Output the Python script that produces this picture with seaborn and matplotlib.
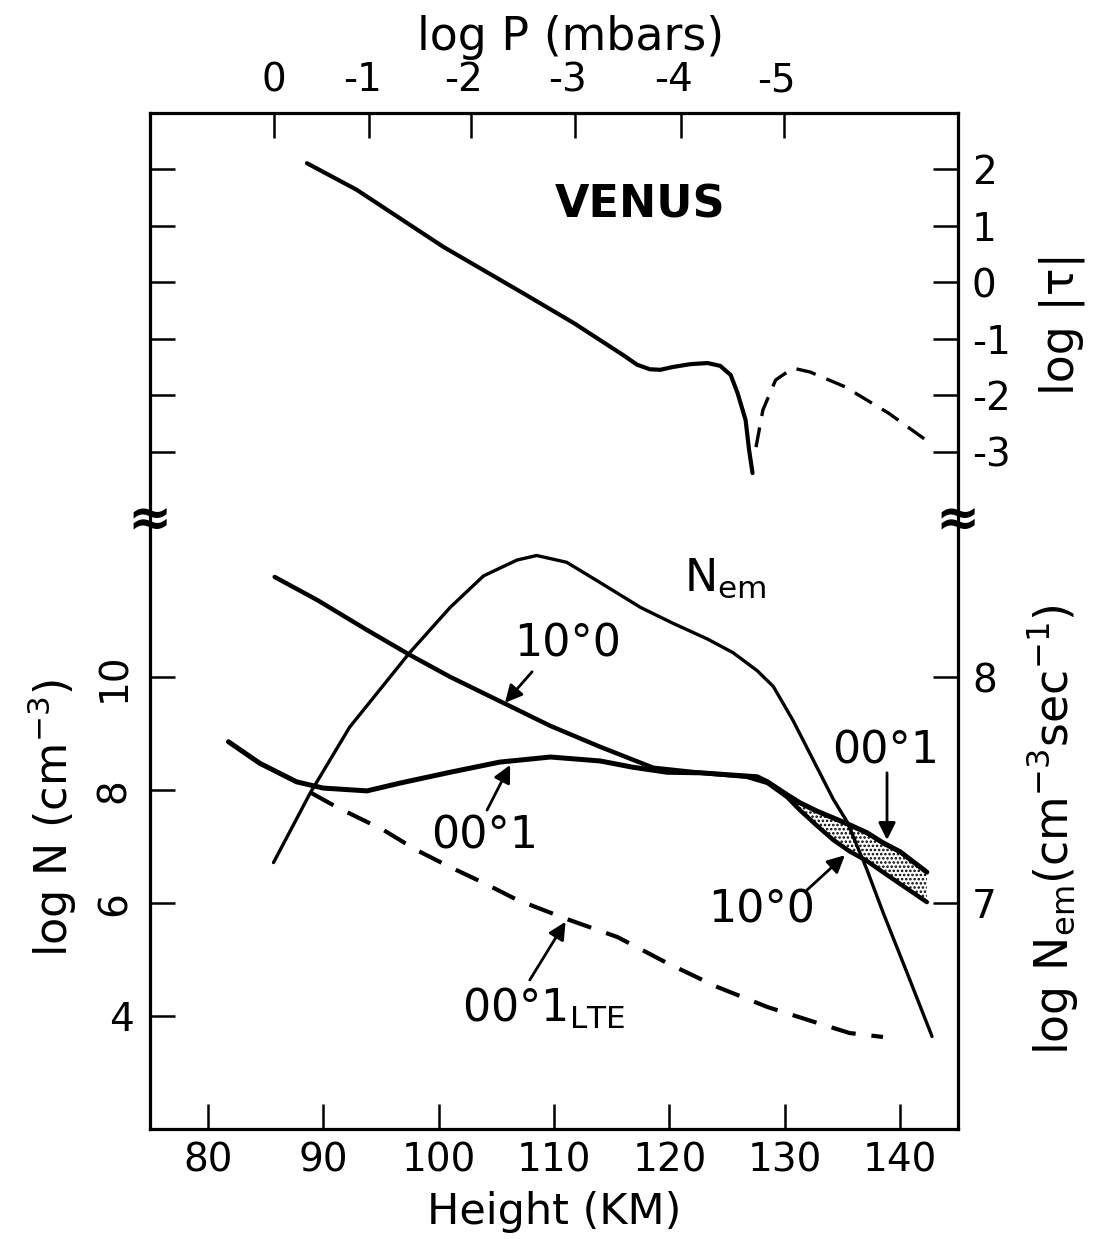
import matplotlib
matplotlib.use("Agg")
import matplotlib.pyplot as plt
import matplotlib.transforms as mtransforms
import seaborn as sns

# heights (km) and curves
logp_ticks = [0, -1, -2, -3, -4, -5]
logp_km = [85.7, 94.0, 102.8, 111.8, 121.0, 129.9]

tau_km = [88.6, 92.9, 100.4, 107.3, 111.7, 116.0, 117.2, 118.3, 119.2, 120.3,
          121.8, 123.3, 124.4, 125.3, 125.9, 126.6, 126.9, 127.2]
tau_log = [2.11, 1.64, 0.63, -0.19, -0.72, -1.29, -1.46, -1.54, -1.55, -1.50,
           -1.45, -1.43, -1.48, -1.64, -1.96, -2.44, -2.97, -3.38]
tau_dash_km = [127.5, 128.1, 129.2, 130.7, 132.2, 135.2, 139.0, 142.6]
tau_dash_log = [-2.92, -2.26, -1.73, -1.52, -1.59, -1.85, -2.32, -2.85]

nem_km = [85.7, 88.9, 92.3, 97.5, 101.0, 103.9, 106.8, 108.5, 111.1, 114.0,
          117.5, 120.3, 123.3, 125.5, 127.6, 129.0, 130.7, 132.8, 134.2, 135.4,
          137.1, 138.5, 140.6, 142.75]
nem_log = [7.18, 7.49, 7.78, 8.11, 8.31, 8.45, 8.52, 8.54, 8.51, 8.42,
           8.31, 8.24, 8.17, 8.11, 8.03, 7.96, 7.81, 7.60, 7.46, 7.36,
           7.15, 6.96, 6.69, 6.41]

t100_km = [85.8, 89.5, 93.8, 97.5, 101.0, 105.6, 109.7, 114.0, 118.6, 122.7,
           126.7, 128.5, 130.2, 131.3, 132.8, 134.2, 135.6, 137.1, 138.5, 140.0, 142.3]
t100_logn = [11.78, 11.37, 10.84, 10.40, 10.01, 9.55, 9.14, 8.77, 8.40, 8.31,
             8.24, 8.13, 7.88, 7.65, 7.37, 7.12, 6.92, 6.75, 6.55, 6.34, 6.02]

t001_km = [81.8, 84.5, 87.7, 90.0, 93.8, 96.7, 101.0, 105.3, 109.7, 114.0,
           116.8, 119.8, 122.7, 125.5, 127.6, 128.5, 130.2, 131.3, 132.8, 134.2,
           135.6, 137.1, 138.5, 140.0, 142.3]
t001_logn = [8.86, 8.48, 8.15, 8.04, 7.99, 8.13, 8.32, 8.50, 8.59, 8.52,
             8.41, 8.32, 8.31, 8.27, 8.24, 8.15, 7.92, 7.78, 7.63, 7.51,
             7.39, 7.25, 7.07, 6.91, 6.55]

lte_km = [89.0, 91.2, 95.2, 98.1, 101.0, 103.9, 106.8, 111.1, 115.5, 119.8,
          124.1, 128.5, 132.8, 135.6, 138.5]
lte_logn = [7.95, 7.70, 7.30, 6.94, 6.64, 6.36, 6.06, 5.72, 5.40, 4.94,
            4.52, 4.16, 3.88, 3.70, 3.63]

height_ticks = [80, 90, 100, 110, 120, 130, 140]
logn_ticks = [4, 6, 8, 10]
tau_ticks = [2, 1, 0, -1, -2, -3]
nem_ticks = [7, 8]

sns.set_theme(style="ticks")
plt.rcParams["font.family"] = ["DejaVu Sans"]
plt.rcParams["axes.linewidth"] = 2.2
plt.rcParams["hatch.linewidth"] = 1.2
plt.rcParams["axes.edgecolor"] = "black"
plt.rcParams["text.color"] = "black"
plt.rcParams["axes.labelcolor"] = "black"

fig = plt.figure(figsize=(10.99, 12.39), dpi=100)
ax = fig.add_axes([0.1365, 0.0888, 0.7352, 0.82])
ax.set_xlim(75, 145)
ax.set_ylim(2, 20)
ax_tau = ax.twinx()
ax_tau.set_ylim(-15, 3)
ax_em = ax.twinx()
ax_em.set_ylim(6, 10.5)
ax_top = ax.twiny()
ax_top.set_xlim(75, 145)

tick_kw = dict(direction="in", length=18, width=1.8, colors="black", labelsize=28)

ax.set_xticks(height_ticks)
ax.tick_params(axis="x", bottom=True, top=False, pad=9, **tick_kw)
ax.set_yticks(logn_ticks + [14, 15, 16, 17, 18, 19],
              [str(v) for v in logn_ticks] + [""] * 6)
ax.tick_params(axis="y", left=True, right=False, pad=12, **tick_kw)
for lab in ax.get_yticklabels():
    if lab.get_text() in ("6", "8", "10"):
        lab.set_rotation(90)
        lab.set_va("center")

ax_tau.set_yticks(tau_ticks, [str(v) for v in tau_ticks])
ax_tau.tick_params(axis="y", left=False, right=True, pad=10, **tick_kw)
ax_em.set_yticks(nem_ticks, [str(v) for v in nem_ticks])
ax_em.tick_params(axis="y", left=False, right=True, pad=10, **tick_kw)
ax_top.set_xticks(logp_km, [str(v) for v in logp_ticks])
ax_top.tick_params(axis="x", top=True, bottom=False, pad=10, **tick_kw)
# keep the digit (not the minus sign) above each pressure tick
shift = mtransforms.ScaledTranslation(-7 / 100, 0, fig.dpi_scale_trans)
for lab in ax_top.get_xticklabels():
    if lab.get_text().startswith("-"):
        lab.set_transform(lab.get_transform() + shift)

# curves
sns.lineplot(x=tau_km, y=tau_log, ax=ax_tau, color="black", linewidth=3.0)
sns.lineplot(x=tau_dash_km, y=tau_dash_log, ax=ax_tau, color="black",
             linewidth=2.4, linestyle=(0, (6, 3.5)))
ax.fill_between(t001_km[16:], t100_logn[12:], t001_logn[16:], facecolor="white",
                edgecolor="black", hatch="....", linewidth=0)
sns.lineplot(x=t100_km, y=t100_logn, ax=ax, color="black", linewidth=3.2)
sns.lineplot(x=t001_km, y=t001_logn, ax=ax, color="black", linewidth=3.6)
sns.lineplot(x=lte_km, y=lte_logn, ax=ax, color="black", linewidth=3.0,
             linestyle=(0, (6, 3.8)))
sns.lineplot(x=nem_km, y=nem_log, ax=ax_em, color="black", linewidth=2.4)

for a in (ax, ax_tau, ax_em, ax_top):
    a.set_xlabel("")
    a.set_ylabel("")
    for s in a.spines.values():
        s.set_linewidth(2.2)
        s.set_color("black")

# axis breaks
brk = mtransforms.blended_transform_factory(ax.transAxes, ax.transData)
for xb in (0.0, 1.0):
    ax.text(xb, 12.8, "≈", transform=brk, ha="center", va="center",
            fontsize=38, fontweight="bold")

# labels on the curves
txt = dict(color="black", ha="center", va="center")
ax.text(117.5, 18.37, "VENUS", fontsize=32, fontweight="bold", **txt)
ax.text(124.8, 11.76, r"N$_{\rm em}$", fontsize=32, **txt)
ax.text(111.2, 10.59, "10°0", fontsize=32, **txt)
ax.text(104.0, 7.19, "00°1", fontsize=32, **txt)
ax.text(102.0, 3.9, r"00°1$_{\rm LTE}$", fontsize=32, color="black",
        ha="left", va="baseline")
ax.text(138.7, 8.70, "00°1", fontsize=32, **txt)
ax.text(128.0, 5.88, "10°0", fontsize=32, **txt)

arrow = dict(arrowstyle="-|>", color="black", lw=2.0, mutation_scale=26,
             shrinkA=0, shrinkB=0)
for tail, tip in [((108.1, 10.10), (105.75, 9.55)),
                  ((104.2, 7.65), (106.2, 8.45)),
                  ((107.9, 4.64), (111.0, 5.67)),
                  ((138.85, 8.31), (138.85, 7.12)),
                  ((131.9, 6.23), (135.2, 6.85))]:
    ax.annotate("", xy=tip, xytext=tail, arrowprops=arrow)

# axis titles
fig.text(571 / 1099, 1 - 37 / 1239, "log P (mbars)", ha="center", va="center", fontsize=33)
fig.text(554 / 1099, 1 - 1212 / 1239, "Height (KM)", ha="center", va="center", fontsize=31)
fig.text(52 / 1099, 1 - 818 / 1239, r"log N (cm$^{-3}$)", rotation=90,
         ha="center", va="center", fontsize=32)
fig.text(1052 / 1099, 1 - 830 / 1239, r"log N$_{\rm em}$(cm$^{-3}$sec$^{-1}$)",
         rotation=90, ha="center", va="center", fontsize=33)
fig.text(1062 / 1099, 1 - 323 / 1239, "log |τ|", rotation=90,
         ha="center", va="center", fontsize=33)

fig.savefig("out.png", dpi=100)
